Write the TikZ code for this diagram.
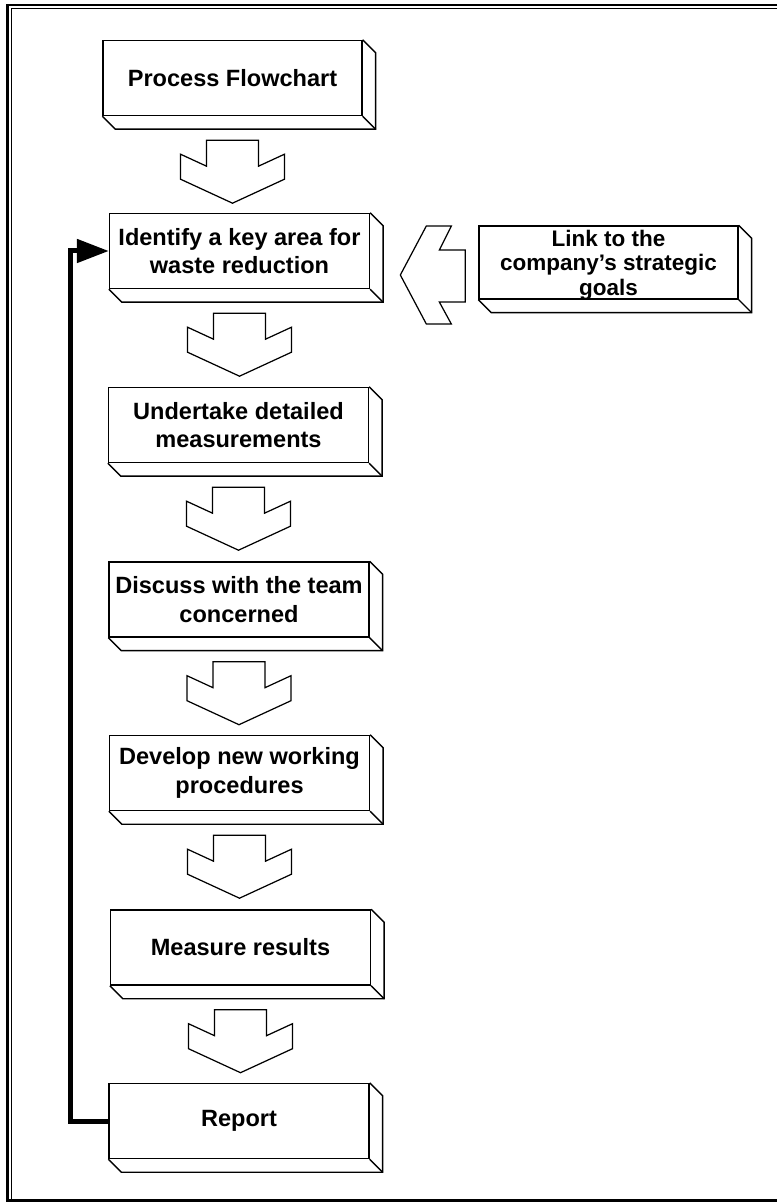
\documentclass[tikz,border=0pt]{standalone}
\usepackage{fontspec}
\setmainfont{Liberation Sans}
\usetikzlibrary{calc}
\usetikzlibrary{arrows.meta}

\begin{document}
\begin{tikzpicture}[x=0.02cm, y=-0.02cm, line width=0.8pt,
  stepbox/.style={draw, rectangle, minimum width=5.2cm, minimum height=1.5cm,
    inner sep=0pt, align=center, font=\bfseries\fontsize{13.4}{16.4}\selectfont},
  blockarrow/.style={draw, line width=0.7pt, line join=miter},
  loopline/.style={line width=0.1cm, -{Triangle[length=0.64cm,width=0.46cm]}}]
  \useasboundingbox (0,0) rectangle (777,1202);

  % page frame
  \draw[line width=1.2pt] (777,5) -| (7.5,1200.5) -- (777,1200.5);
  \draw[line width=0.9pt] (777,8.5) -| (11.5,1202);

  \node[stepbox, minimum width=5.18cm] (flow) at (232.5,78) {Process Flowchart};
  \node[stepbox] (ident) at (239.5,251) {Identify a key area for\\waste reduction};
  \node[stepbox, minimum width=5.18cm, minimum height=1.46cm, text depth=0pt,
    font=\bfseries\fontsize{12.8}{14}\selectfont] (link) at (608.5,262.5)
{Link to the\\company's strategic\\goals};
  \node[stepbox] (meas) at (238.5,425) {Undertake detailed\\measurements};
  \node[stepbox] (disc) at (239,599.5) {Discuss with the team\\concerned};
  \node[stepbox] (dev) at (239.5,773) {Develop new working\\procedures};
  \node[stepbox] (res) at (240.5,947.5) {Measure results};
  \node[stepbox] (rep) at (239,1121) {Report};

  % depth faces of the boxes
  \foreach \blk in {flow,ident,link,meas,disc,dev,res,rep}
   {\draw (\blk.north east) -- ++(13,13) -- ($(\blk.south east)+(13,13)$)
      -- ($(\blk.south west)+(13,13)$) -- (\blk.south west);
    \draw (\blk.south east) -- ++(13,13);}

  % block arrows between the steps
  \foreach \from in {flow,ident,meas,disc,dev,res}
   \draw[blockarrow] ($(\from.south)+(-26,24)$) -- ++(0,26) -- ++(-26,-12)
      -- ++(0,25) -- ++(52,24) -- ++(52,-24) -- ++(0,-25) -- ++(-26,12)
      -- ++(0,-26) -- cycle;

  \draw[blockarrow] ($(link.west)+(-13,-12.5)$) -- ++(0,52) -- ++(-26,0)
      -- ++(12,22) -- ++(-25,0) -- ++(-26,-49) -- ++(26,-49) -- ++(25,0)
      -- ++(-12,24) -- cycle;

  \draw[loopline] (rep.west) -- ++(-38,0) |- (ident.west);
\end{tikzpicture}
\end{document}
